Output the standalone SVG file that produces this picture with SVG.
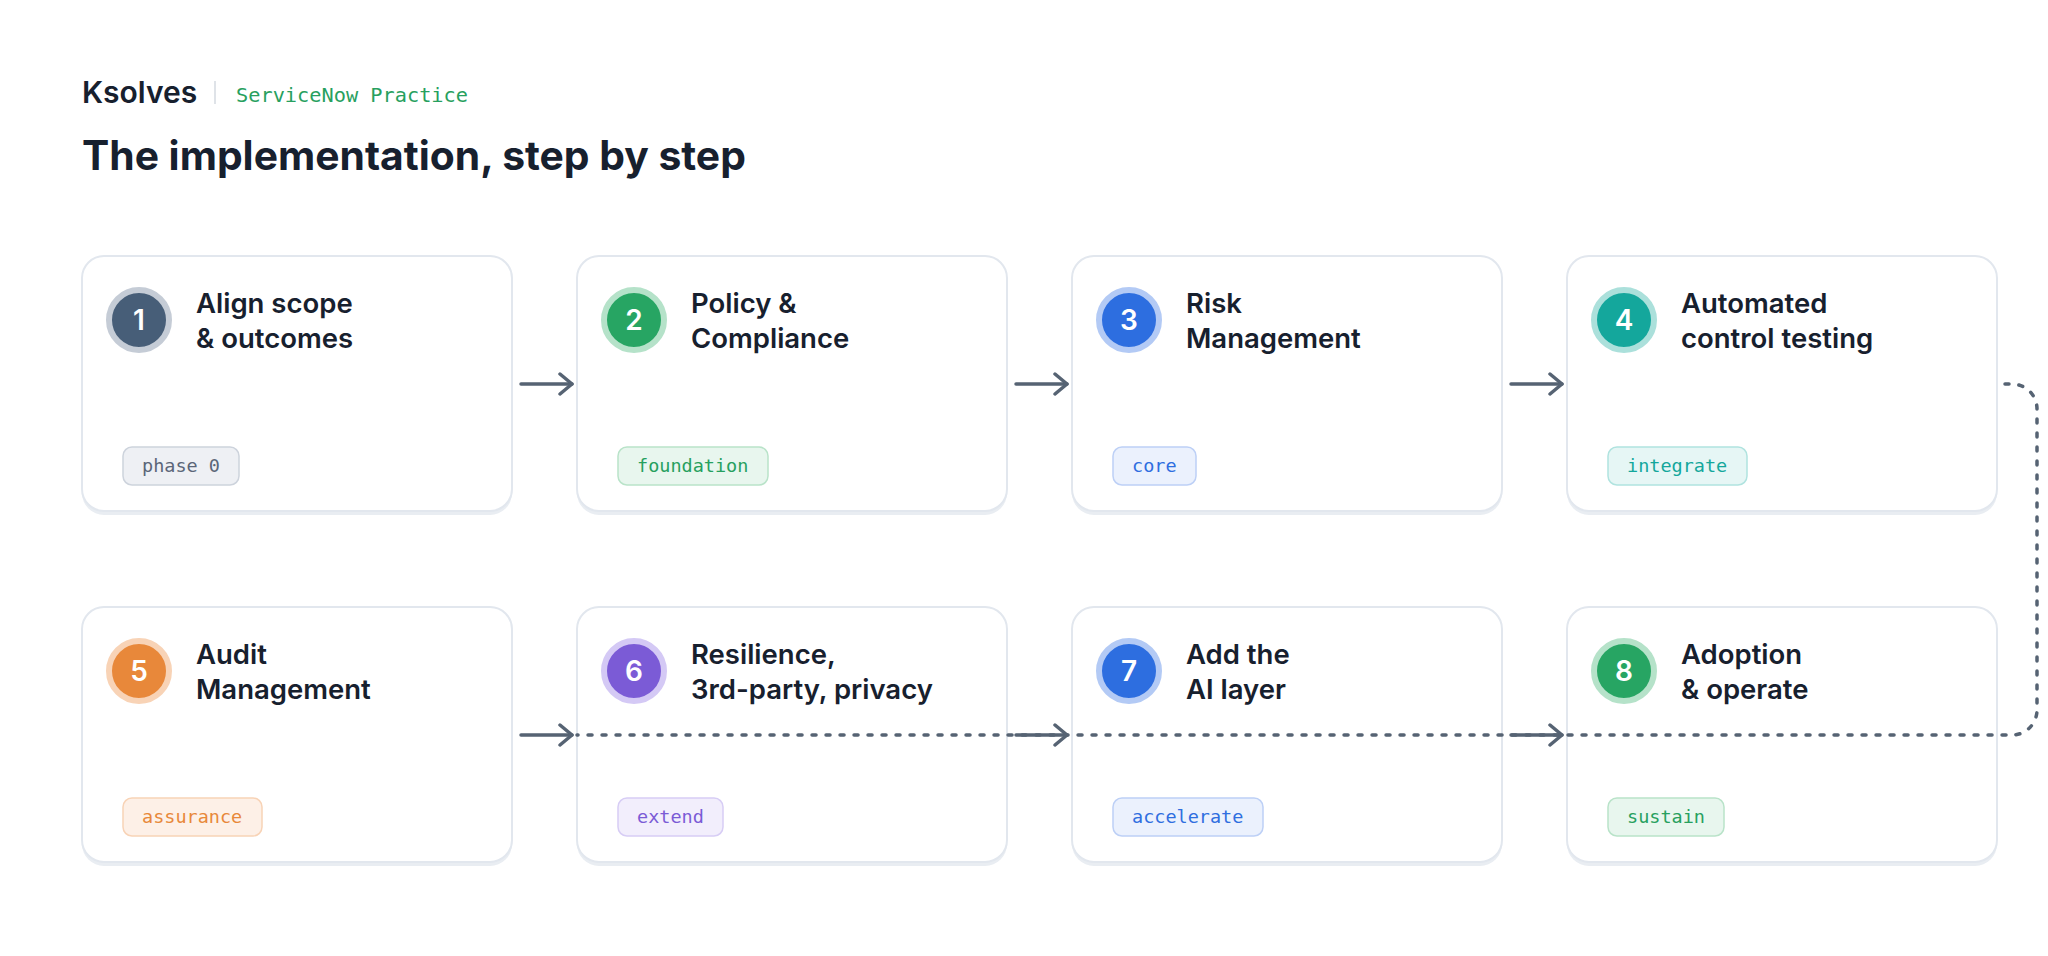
<svg xmlns="http://www.w3.org/2000/svg" width="2048" height="956" viewBox="0 0 2048 956">
<defs>
<style>
.bg{fill:#ffffff}
.card{fill:#ffffff;stroke:#e2e7ee;stroke-width:2}
.shadow{fill:#e9edf2}
.title{font-family:Inter,"Noto Sans","Liberation Sans",sans-serif;font-weight:600;font-size:27.5px;fill:#17202e}
.num{font-family:Inter,"Noto Sans","Liberation Sans",sans-serif;font-weight:600;font-size:28px;fill:#ffffff;text-anchor:middle}
.badge{font-family:"DejaVu Sans Mono","Liberation Mono",monospace;font-size:18.5px}
.conn{fill:none;stroke:#566373;stroke-width:3.5;stroke-linecap:round}
.dash{stroke-dasharray:4 10}
</style>
<marker id="arrow" viewBox="0 0 18 24" refX="15" refY="12" markerWidth="18" markerHeight="24" markerUnits="userSpaceOnUse" orient="auto">
<path d="M3,2 L15,12 L3,22" fill="none" stroke="#566373" stroke-width="3.5" stroke-linecap="round" stroke-linejoin="round"/>
</marker>
</defs>
<rect class="bg" x="0" y="0" width="2048" height="956"/>

<g id="header">
<text x="82" y="103" font-family="Inter,'Noto Sans','Liberation Sans',sans-serif" font-weight="600" font-size="30" fill="#17202e">Ksolves</text>
<line x1="215" y1="81" x2="215" y2="104" stroke="#d5dae1" stroke-width="1.5"/>
<text x="236" y="102" font-family="'DejaVu Sans Mono','Liberation Mono',monospace" font-size="20.3" fill="#27a05e">ServiceNow Practice</text>
<text x="82" y="170" font-family="Inter,'Noto Sans','Liberation Sans',sans-serif" font-weight="700" font-size="40.8" fill="#17202e">The implementation, step by step</text>
</g>

<g id="node1">
<rect class="shadow" x="82" y="260" width="430" height="255" rx="22"/>
<rect class="card" x="82" y="256" width="430" height="255" rx="22"/>
<circle cx="139" cy="320" r="30" fill="#475e78" stroke="#c5ccd6" stroke-width="6"/>
<text class="num" x="139" y="330">1</text>
<text class="title" x="196" y="313">Align scope</text>
<text class="title" x="196" y="348">&amp; outcomes</text>
<rect x="123" y="447" width="116" height="38" rx="9" fill="#eef0f4" stroke="#cdd3dc" stroke-width="1.5"/>
<text class="badge" x="142" y="472" fill="#5b6678">phase 0</text>
</g>

<g id="node2">
<rect class="shadow" x="577" y="260" width="430" height="255" rx="22"/>
<rect class="card" x="577" y="256" width="430" height="255" rx="22"/>
<circle cx="634" cy="320" r="30" fill="#27a563" stroke="#b5e2c9" stroke-width="6"/>
<text class="num" x="634" y="330">2</text>
<text class="title" x="691" y="313">Policy &amp;</text>
<text class="title" x="691" y="348">Compliance</text>
<rect x="618" y="447" width="150" height="38" rx="9" fill="#e8f6ee" stroke="#b9e3c9" stroke-width="1.5"/>
<text class="badge" x="637" y="472" fill="#27a05e">foundation</text>
</g>

<g id="node3">
<rect class="shadow" x="1072" y="260" width="430" height="255" rx="22"/>
<rect class="card" x="1072" y="256" width="430" height="255" rx="22"/>
<circle cx="1129" cy="320" r="30" fill="#2d6ee0" stroke="#b3caf5" stroke-width="6"/>
<text class="num" x="1129" y="330">3</text>
<text class="title" x="1186" y="313">Risk</text>
<text class="title" x="1186" y="348">Management</text>
<rect x="1113" y="447" width="83" height="38" rx="9" fill="#ebf1fd" stroke="#bdd0f6" stroke-width="1.5"/>
<text class="badge" x="1132" y="472" fill="#2f6ee0">core</text>
</g>

<g id="node4">
<rect class="shadow" x="1567" y="260" width="430" height="255" rx="22"/>
<rect class="card" x="1567" y="256" width="430" height="255" rx="22"/>
<circle cx="1624" cy="320" r="30" fill="#14a79c" stroke="#abe0db" stroke-width="6"/>
<text class="num" x="1624" y="330">4</text>
<text class="title" x="1681" y="313">Automated</text>
<text class="title" x="1681" y="348">control testing</text>
<rect x="1608" y="447" width="139" height="38" rx="9" fill="#e6f6f5" stroke="#b0e3df" stroke-width="1.5"/>
<text class="badge" x="1627" y="472" fill="#14a79c">integrate</text>
</g>

<g id="node5">
<rect class="shadow" x="82" y="611" width="430" height="255" rx="22"/>
<rect class="card" x="82" y="607" width="430" height="255" rx="22"/>
<circle cx="139" cy="671" r="30" fill="#e8883a" stroke="#f8d3b6" stroke-width="6"/>
<text class="num" x="139" y="681">5</text>
<text class="title" x="196" y="664">Audit</text>
<text class="title" x="196" y="699">Management</text>
<rect x="123" y="798" width="139" height="38" rx="9" fill="#fdf0e7" stroke="#f8d3b6" stroke-width="1.5"/>
<text class="badge" x="142" y="823" fill="#e8883a">assurance</text>
</g>

<g id="node6">
<rect class="shadow" x="577" y="611" width="430" height="255" rx="22"/>
<rect class="card" x="577" y="607" width="430" height="255" rx="22"/>
<circle cx="634" cy="671" r="30" fill="#7b5bd6" stroke="#d4c9f5" stroke-width="6"/>
<text class="num" x="634" y="681">6</text>
<text class="title" x="691" y="664">Resilience,</text>
<text class="title" x="691" y="699">3rd-party, privacy</text>
<rect x="618" y="798" width="105" height="38" rx="9" fill="#f2eefc" stroke="#d7cdf5" stroke-width="1.5"/>
<text class="badge" x="637" y="823" fill="#7b5bd6">extend</text>
</g>

<g id="node7">
<rect class="shadow" x="1072" y="611" width="430" height="255" rx="22"/>
<rect class="card" x="1072" y="607" width="430" height="255" rx="22"/>
<circle cx="1129" cy="671" r="30" fill="#2d6ee0" stroke="#b3caf5" stroke-width="6"/>
<text class="num" x="1129" y="681">7</text>
<text class="title" x="1186" y="664">Add the</text>
<text class="title" x="1186" y="699">AI layer</text>
<rect x="1113" y="798" width="150" height="38" rx="9" fill="#ebf1fd" stroke="#bdd0f6" stroke-width="1.5"/>
<text class="badge" x="1132" y="823" fill="#2f6ee0">accelerate</text>
</g>

<g id="node8">
<rect class="shadow" x="1567" y="611" width="430" height="255" rx="22"/>
<rect class="card" x="1567" y="607" width="430" height="255" rx="22"/>
<circle cx="1624" cy="671" r="30" fill="#27a563" stroke="#b5e2c9" stroke-width="6"/>
<text class="num" x="1624" y="681">8</text>
<text class="title" x="1681" y="664">Adoption</text>
<text class="title" x="1681" y="699">&amp; operate</text>
<rect x="1608" y="798" width="116" height="38" rx="9" fill="#e8f6ee" stroke="#b9e3c9" stroke-width="1.5"/>
<text class="badge" x="1627" y="823" fill="#27a05e">sustain</text>
</g>

<g id="connectors">
<path class="conn dash" d="M2005 384 H2012 A25 25 0 0 1 2037 409 V710 A25 25 0 0 1 2012 735 H577"/>
<path class="conn" d="M521 384 H572" marker-end="url(#arrow)"/>
<path class="conn" d="M1016 384 H1067" marker-end="url(#arrow)"/>
<path class="conn" d="M1511 384 H1562" marker-end="url(#arrow)"/>
<path class="conn" d="M521 735 H572" marker-end="url(#arrow)"/>
<path class="conn" d="M1016 735 H1067" marker-end="url(#arrow)"/>
<path class="conn" d="M1511 735 H1562" marker-end="url(#arrow)"/>
</g>
</svg>
